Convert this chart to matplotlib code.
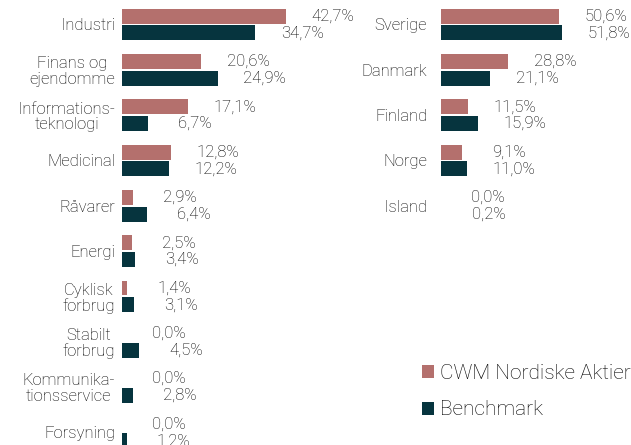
import matplotlib.pyplot as plt
import numpy as np

# sector allocation (left) and country allocation (right), in %
sectors = ["Industri", "Finans og\nejendomme", "Informations-\nteknologi", "Medicinal",
           "Råvarer", "Energi", "Cyklisk\nforbrug", "Stabilt\nforbrug",
           "Kommunika-\ntionsservice", "Forsyning"]
sector_fund = [42.7, 20.6, 17.1, 12.8, 2.9, 2.5, 1.4, 0.0, 0.0, 0.0]
sector_bench = [34.7, 24.9, 6.7, 12.2, 6.4, 3.4, 3.1, 4.5, 2.8, 1.2]

countries = ["Sverige", "Danmark", "Finland", "Norge", "Island"]
country_fund = [50.6, 28.8, 11.5, 9.1, 0.0]
country_bench = [51.8, 21.1, 15.9, 11.0, 0.2]

series_names = ["CWM Nordiske Aktier", "Benchmark"]
pink = "#B4706D"
teal = "#06343E"

plt.rcParams['font.family'] = ['Roboto', 'DejaVu Sans']
plt.rcParams['font.weight'] = 'light'
txt_col = "#000000"

fig = plt.figure(figsize=(6.31, 4.45), dpi=100)
W, H = 631, 445
ylim = (9.28, -0.54)
bh = 0.33
off = 0.185


def fmt(v):
    return f"{v:.1f}%".replace(".", ",")


def panel(left_px, width_px, px_per_pct, cats, fund, bench, pad):
    ax = fig.add_axes([left_px / W, 0, width_px / W, 1])
    y = np.arange(len(cats))
    b1 = ax.barh(y - off, fund, height=bh, color=pink, label=series_names[0])
    b2 = ax.barh(y + off, bench, height=bh, color=teal, label=series_names[1])
    for yy, v in zip(y - off, fund):
        ax.annotate(fmt(v), (v, yy), xytext=(34, 0), textcoords="offset points",
                    ha="center", va="center", fontsize=12, color=txt_col)
    for yy, v in zip(y + off, bench):
        ax.annotate(fmt(v), (v, yy), xytext=(34, 0), textcoords="offset points",
                    ha="center", va="center", fontsize=12, color=txt_col)
    ax.set_xlim(0, width_px / px_per_pct)
    ax.set_ylim(*ylim)
    ax.set_yticks(y)
    ax.set_yticklabels(cats, fontsize=12, color=txt_col, multialignment="center",
                       linespacing=1.05)
    ax.tick_params(axis="y", length=0, pad=pad)
    ax.set_xticks([])
    for s in ax.spines.values():
        s.set_visible(False)
    ax.patch.set_alpha(0)
    return b1, b2


panel(122, 230, 3.84, sectors, sector_fund, sector_bench, 5)
h1, h2 = panel(441, 190, 2.33, countries, country_fund, country_bench, 10)

fig.legend([h1, h2], series_names, loc="upper left", bbox_to_anchor=(403 / W, 1 - 345 / H),
           frameon=False, fontsize=15, handlelength=0.6, handleheight=0.6,
           handletextpad=0.3, labelspacing=0.85, labelcolor=txt_col)

fig.savefig("out.png", dpi=100)
